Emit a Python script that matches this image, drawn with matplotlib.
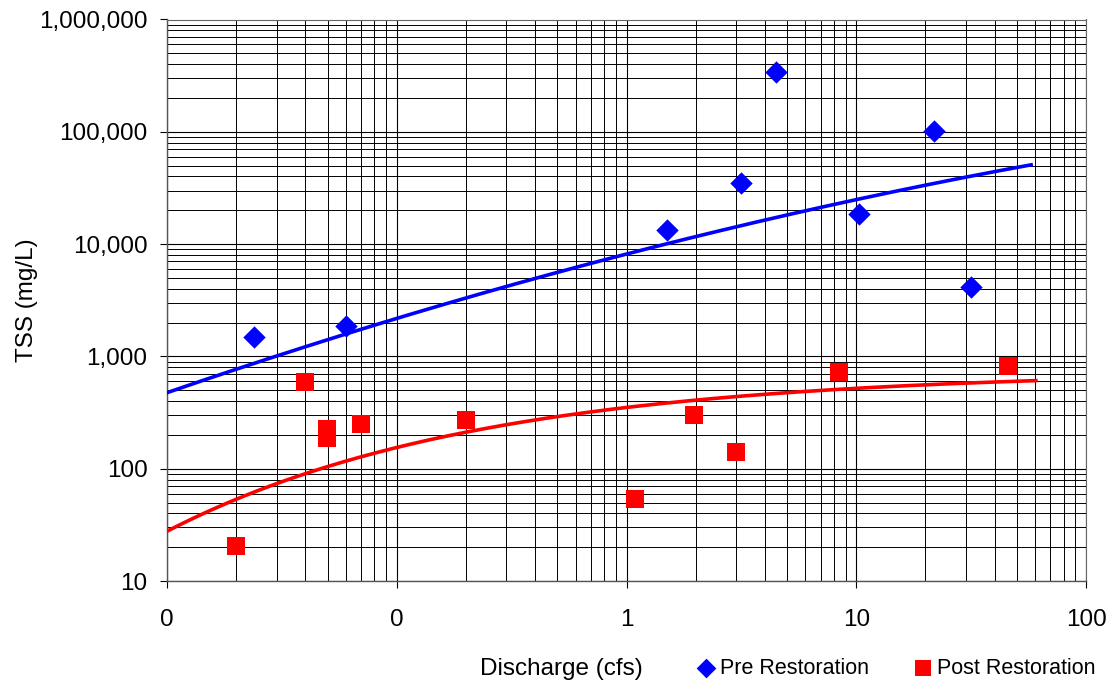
import numpy as np
import matplotlib
matplotlib.use("Agg")
import matplotlib.pyplot as plt
from matplotlib.ticker import LogLocator, NullFormatter, FixedLocator, FixedFormatter

plt.rcParams['font.family'] = ['Liberation Sans', 'DejaVu Sans']

# data
pre_q = [0.0239, 0.0601, 1.50, 3.15, 4.47, 10.25, 21.8, 31.6]
pre_tss = [1490, 1866, 13360, 34780, 340800, 18540, 101600, 4150]

post_q = [0.0200, 0.0399, 0.0497, 0.0497, 0.0701, 0.2004, 1.09, 1.97, 2.99, 8.41, 45.7]
post_tss = [20.5, 592, 224, 188, 252, 269, 53.7, 301, 141, 731, 822]

# trend lines (coefficients), u = log10(x)
pre_trend_coef = [3.9114, 0.5289, -0.04416]   # log10(y) = c0 + c1*u + c2*u^2
pre_trend_range = [0.01, 57.7]
post_trend_coef = [2.872, 0.3266, 0.738]      # log10(y) = C - A*exp(-k*u)
post_trend_range = [0.01, 60.5]

x_ticks = [0.01, 0.1, 1, 10, 100]
x_ticklabels = ["0", "0", "1", "10", "100"]
y_ticks = [10, 100, 1000, 10000, 100000, 1000000]
y_ticklabels = ["10", "100", "1,000", "10,000", "100,000", "1,000,000"]

fs = 17.5

fig = plt.figure(figsize=(11.1, 6.89), dpi=100)
ax = fig.add_axes([167 / 1110, 1 - 581 / 689, (1086 - 167) / 1110, (581 - 19.5) / 689])

ax.set_xscale('log')
ax.set_yscale('log')
ax.set_xlim(0.01, 100)
ax.set_ylim(10, 1000000)

# trend lines
u = np.linspace(np.log10(pre_trend_range[0]), np.log10(pre_trend_range[1]), 300)
c0, c1, c2 = pre_trend_coef
ax.plot(10 ** u, 10 ** (c0 + c1 * u + c2 * u ** 2), color='#0000ff', lw=2.6, zorder=3)

u2 = np.linspace(np.log10(post_trend_range[0]), np.log10(post_trend_range[1]), 300)
C, A, k = post_trend_coef
ax.plot(10 ** u2, 10 ** (C - A * np.exp(-k * u2)), color='#ff0000', lw=2.6, zorder=3)

# points
ax.scatter(pre_q, pre_tss, marker='D', s=130, color='#0000ff', lw=0, zorder=4,
           label='Pre Restoration')
ax.scatter(post_q, post_tss, marker='s', s=155, color='#ff0000', lw=0, zorder=4,
           label='Post Restoration')

# ticks and grid
ax.xaxis.set_major_locator(FixedLocator(x_ticks))
ax.xaxis.set_major_formatter(FixedFormatter(x_ticklabels))
ax.yaxis.set_major_locator(FixedLocator(y_ticks))
ax.yaxis.set_major_formatter(FixedFormatter(y_ticklabels))
ax.xaxis.set_minor_locator(LogLocator(base=10, subs=np.arange(2, 10), numticks=20))
ax.yaxis.set_minor_locator(LogLocator(base=10, subs=np.arange(2, 10), numticks=20))
ax.xaxis.set_minor_formatter(NullFormatter())
ax.yaxis.set_minor_formatter(NullFormatter())

ax.grid(True, which='major', color='black', lw=0.8)
ax.grid(True, which='minor', color='black', lw=0.7)
ax.set_axisbelow(True)

ax.tick_params(which='major', direction='out', length=5, width=0.8, labelsize=fs, colors='black')
ax.tick_params(axis='y', which='major', pad=9)
ax.tick_params(axis='x', which='major', pad=15)
ax.tick_params(which='minor', length=0)

for side in ['left', 'bottom']:
    ax.spines[side].set_color('#555555')
    ax.spines[side].set_linewidth(1.0)
for side in ['top', 'right']:
    ax.spines[side].set_color('#666666')
    ax.spines[side].set_linewidth(0.8)

fig.text(27 / 1110, 1 - 300 / 689, 'TSS (mg/L)', fontsize=fs, rotation=90,
         ha='center', va='center')
fig.text(561 / 1110, 1 - 669 / 689, 'Discharge (cfs)', fontsize=fs, ha='center', va='center')

fig.legend(loc='center left', bbox_to_anchor=(695 / 1110, 1 - 668 / 689), ncol=2,
           frameon=False, fontsize=15.5, handletextpad=0.15, columnspacing=2.0,
           handlelength=1.0, borderpad=0, borderaxespad=0, scatterpoints=1,
           markerscale=0.88)

fig.savefig('out.png', dpi=100)
